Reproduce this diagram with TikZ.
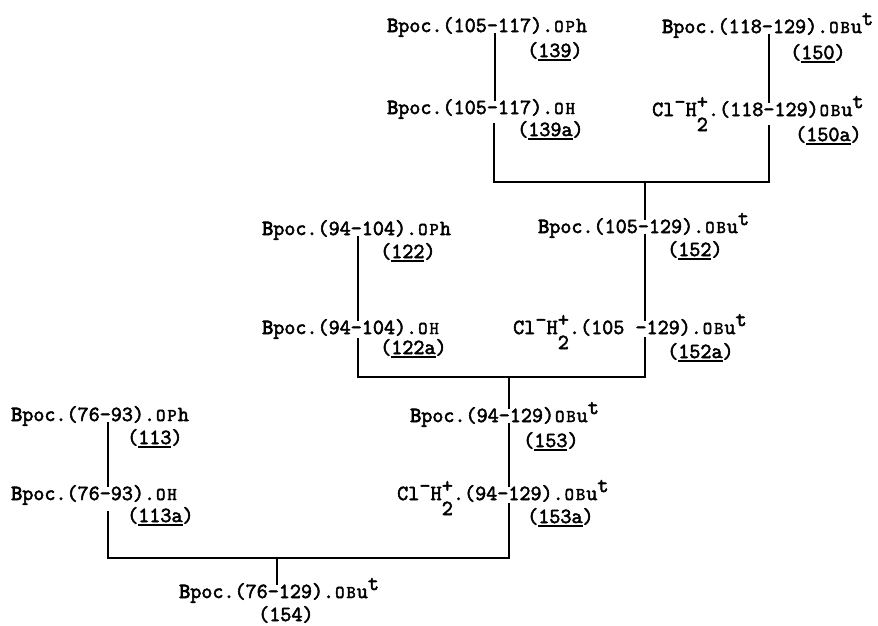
\documentclass[tikz,border=0pt]{standalone}
\usepackage{fontspec}
\setmonofont[FakeBold=2.5]{Latin Modern Mono}
\newfontfamily\heavyB[FakeBold=4]{Latin Modern Mono}
\newlength\cw \setlength\cw{11.3pt}
\newcommand\cc[1]{\makebox[\cw][c]{#1}}
\newcommand\sm[1]{{\fontsize{18}{18}\selectfont #1}}
\newcommand\Bp{{\heavyB B}poc}
\newcommand\OPh{.\cc{\sm{O}}\cc{\sm{P}}\cc{h}}
\newcommand\OH{.\cc{\sm{O}}\cc{\sm{H}}}
\newcommand\OBut{\cc{\sm{O}}\cc{\sm{B}}u\cc{\raisebox{8pt}{t}}}
\newcommand\ClH{Cl\cc{\raisebox{7.5pt}{-}}H\cc{\makebox[0pt]{\raisebox{7.5pt}{+}}\makebox[0pt]{\raisebox{-15pt}{2}}}.}
\newcommand\ul[1]{\setbox0\hbox{#1}\rlap{\rule[-3.5pt]{\wd0}{1.3pt}}\box0}
\begin{document}
\begin{tikzpicture}[x=1pt,y=-1pt,
  txt/.style={anchor=base west,inner sep=0pt,text height=13pt,text depth=1pt,
    font=\ttfamily\fontsize{21.5}{24}\selectfont},
  lab/.style={txt},
  ln/.style={line width=1.2pt},
  lnm/.style={line width=1.6pt},
  lnb/.style={line width=2.2pt}]
\useasboundingbox[fill=white] (0,0) rectangle (878,625);
% top section
\node[txt] (A1) at (387,32) {\Bp.(105-117)\OPh};
\node[lab] (L139) at (527,57) {(\ul{139})};
\node[txt] (A2) at (662,33) {\Bp.(118-129).\OBut};
\node[lab] (L150) at (790,59) {(\ul{150})};
\node[txt] (B1) at (387,114) {\Bp.(105-117)\OH};
\node[lab] (L139a) at (517,136) {(\ul{139a})};
\node[txt] (B2) at (652,116) {\ClH(118-129)\OBut};
\node[lab] (L150a) at (795,141) {(\ul{150a})};
% middle section
\node[txt] (C1) at (538,233) {\Bp.(105-129).\OBut};
\node[lab] (L152) at (667,256) {(\ul{152})};
\node[txt] (C0) at (262,235) {\Bp.(94-104)\OPh};
\node[lab] (L122) at (380,258) {(\ul{122})};
\node[txt] (D0) at (262,334) {\Bp.(94-104)\OH};
\node[lab] (L122a) at (380,354) {(\ul{122a})};
\node[txt] (D1) at (513,334) {\ClH(105 -129).\OBut};
\node[lab] (L152a) at (667,358) {(\ul{152a})};
% lower section
\node[txt] (E) at (410,422) {\Bp.(94-129)\OBut};
\node[lab] (L153) at (523,447) {(\ul{153})};
\node[txt] (F0) at (11,421) {\Bp.(76-93)\OPh};
\node[lab] (L113) at (127,444) {(\ul{113})};
\node[txt] (G0) at (11,500) {\Bp.(76-93)\OH};
\node[lab] (L113a) at (127,522) {(\ul{113a})};
\node[txt] (G1) at (397,500) {\ClH(94-129).\OBut};
\node[lab] (L153a) at (527,523) {(\ul{153a})};
\node[txt] (H) at (179,598) {\Bp.(76-129).\OBut};
\node[lab] (L154) at (258,621) {(154)};
% coordinates
\coordinate (xa) at (495,0);
\coordinate (xa2) at (494,0);
\coordinate (xb) at (769,0);
\coordinate (j1) at (645,182);
\coordinate (x3) at (358,0);
\coordinate (j2) at (509,377);
\coordinate (x4) at (108,0);
\coordinate (j3) at (277,558);
% connectors top
\draw[lnm] (A1.south -| xa) -- (B1.north -| xa);
\draw[lnm] (A2.south -| xb) -- (B2.north -| xb);
\draw[lnb,shorten <=8pt,shorten >=8pt] (B1.south -| xa2) |- (j1) -| (B2.south -| xb);
% connectors middle
\draw[ln] (j1) -- (C1.north -| j1);
\draw[ln] (C1.south -| j1) -- (D1.north -| j1);
\draw[ln] (C0.south -| x3) -- (D0.north -| x3);
\draw[ln,shorten <=3pt,shorten >=2pt] (D0.south -| x3) |- (j2) -| (D1.south -| j1);
% connectors lower
\draw[ln] (j2) -- (E.north -| j2);
\draw[ln] (E.south -| j2) -- (G1.north -| j2);
\draw[ln] (F0.south -| x4) -- (G0.north -| x4);
\draw[ln,shorten <=10pt,shorten >=2pt] (G0.south -| x4) |- (j3) -| (G1.south -| j2);
\draw[ln] (j3) -- (H.north -| j3);
\end{tikzpicture}
\end{document}
